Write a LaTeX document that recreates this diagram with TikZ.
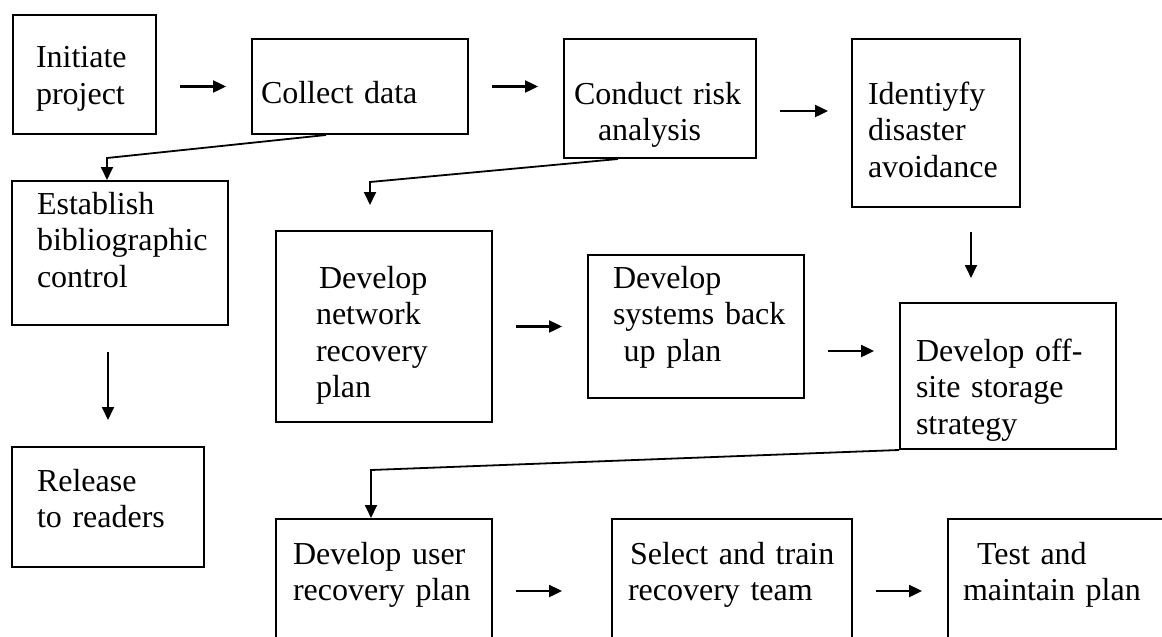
\documentclass[tikz,border=0pt]{standalone}
\usepackage{fontspec}
\setmainfont{Liberation Serif}
\usepackage{tikz}
\usetikzlibrary{arrows.meta}
\hyphenpenalty=10000
\tikzset{
  stagebox/.style={draw, line width=1pt, anchor=north west, align=left, inner ysep=0pt,
    font=\fontsize{16}{18.3}\selectfont},
  flow/.style={-{Triangle[length=6.5pt,width=6pt]}, line width=1.2pt},
  elbow/.style={-{Triangle[length=6.5pt,width=6pt]}, line width=0.9pt}
}

\begin{document}
\begin{tikzpicture}[x=0.5pt,y=-0.5pt]
\useasboundingbox (0,0) rectangle (1162,637);

\node [stagebox,minimum width=71.5pt,minimum height=59.5pt,inner xsep=11.5pt,text width=48.5pt,text height=0pt,text depth=6.5pt] (init) at (12,14)
{Initiate\\project};
\node [stagebox,minimum width=108pt,minimum height=47.5pt,inner xsep=4.5pt,text width=99pt,text height=16.5pt,text depth=0pt] (collect) at (251,38)
{Collect data};
\node [stagebox,minimum width=96pt,minimum height=59.5pt,inner xsep=5pt,text width=86pt,text height=5.5pt,text depth=0pt] (risk) at (563,38)
{\mbox{Conduct risk}\\\hspace*{12pt}analysis};
\node [stagebox,minimum width=84pt,minimum height=84pt,inner xsep=8pt,text width=68pt,text height=0pt,text depth=19pt] (ident) at (851,38)
{Identiyfy\\disaster\\avoidance};
\node [stagebox,minimum width=108pt,minimum height=72pt,inner xsep=12.5pt,text width=83pt,text height=0pt,text depth=39pt] (estab) at (11,180)
{Establish\\bibliographic\\control};
\node [stagebox,minimum width=96pt,minimum height=60pt,inner xsep=12.5pt,text width=71pt,text height=0pt,text depth=16pt] (release) at (11,446)
{Release\\to readers};
\node [stagebox,minimum width=108pt,minimum height=95.5pt,inner xsep=20pt,text width=68pt,text height=0pt,text depth=38.5pt] (network) at (275,230)
{\hspace*{1.5pt}Develop\\network\\recovery\\plan};
\node [stagebox,minimum width=108pt,minimum height=71.5pt,inner xsep=12.5pt,text width=83pt,text height=0pt,text depth=38.5pt] (systems) at (587,254)
{Develop\\\mbox{systems back}\\\ up plan};
\node [stagebox,minimum width=108pt,minimum height=73pt,inner xsep=8pt,text width=92pt,text height=0pt,text depth=15pt] (offsite) at (899,302)
{Develop off-\\site storage\\strategy};
\node [stagebox,minimum width=108pt,minimum height=72pt,inner xsep=8.5pt,text width=91pt,text height=0pt,text depth=27pt] (user) at (275,518)
{\mbox{Develop user}\\\mbox{recovery plan}};
\node [stagebox,minimum width=120pt,minimum height=72pt,inner xsep=8pt,text width=104pt,text height=0pt,text depth=27pt] (select) at (611,518)
{\hspace*{1pt}\mbox{Select and train}\\recovery team};
\node [stagebox,minimum width=120pt,minimum height=72pt,inner xsep=7.5pt,text width=105pt,text height=0pt,text depth=27pt] (test) at (947,518)
{\hspace*{7pt}Test and\\maintain plan};

\coordinate (k1) at (107,158);
\coordinate (k2) at (370,182);
\coordinate (k3) at (371,470);

\draw [flow,shorten <=11.5pt,shorten >=12.5pt] (init.east |- collect.west) -- (collect.west);
\draw [flow,shorten <=11.5pt,shorten >=12.5pt] (collect.east) -- (collect.east -| risk.west);
\draw [flow,shorten <=11.5pt,shorten >=11.5pt] ([yshift=-6.25pt]risk.east) -- ([yshift=-6.25pt]risk.east -| ident.west);
\draw [elbow] ([xshift=-17pt]collect.south) -- (k1) -- (k1 |- estab.north);
\draw [flow,line width=0.9pt,shorten <=13pt,shorten >=13pt] (release.north |- estab.south) -- (release.north);
\draw [elbow,shorten >=12.5pt] ([xshift=-21pt]risk.south) -- (k2) -- (k2 |- network.north);
\draw [flow,line width=0.9pt,shorten <=12pt,shorten >=12pt] ([xshift=17.5pt]ident.south) -- ([xshift=17.5pt]ident.south |- offsite.north);
\draw [flow,shorten <=11.5pt,shorten >=12.5pt] (network.east) -- (network.east -| systems.west);
\draw [flow,shorten <=11.5pt,shorten >=12.5pt] ([yshift=-12.25pt]systems.east) -- ([yshift=-12.25pt]systems.east -| offsite.west);
\draw [elbow] (offsite.south west) -- (k3) -- (k3 |- user.north);
\draw [flow,shorten <=11.5pt,shorten >=24.5pt] (user.east) -- (user.east -| select.west);
\draw [flow,shorten <=11.5pt,shorten >=12.5pt] (select.east) -- (select.east -| test.west);
\end{tikzpicture}
\end{document}
